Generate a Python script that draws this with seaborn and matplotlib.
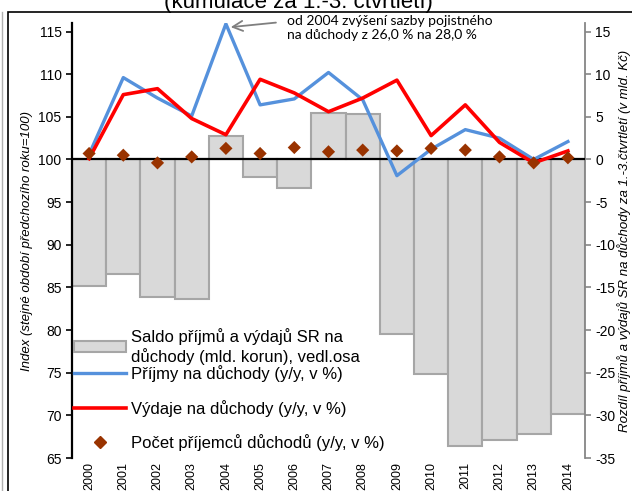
import numpy as np
import pandas as pd
import seaborn as sns
import matplotlib
matplotlib.use("Agg")
import matplotlib.pyplot as plt
from matplotlib.lines import Line2D
from matplotlib.patches import Patch, Rectangle

plt.rcParams['font.family'] = ['Liberation Sans', 'DejaVu Sans']
plt.rcParams['axes.unicode_minus'] = False

# data
roky = list(range(2000, 2015))
saldo = [-14.8, -13.4, -16.1, -16.3, 2.8, -2.1, -3.3, 5.5, 5.3, -20.5, -25.2, -33.6, -32.9, -32.2, -29.8]
prijmy = [100.6, 109.6, 107.2, 105.1, 115.9, 106.4, 107.1, 110.2, 107.0, 98.1, 101.2, 103.5, 102.5, 100.0, 102.1]
vydaje = [100.1, 107.6, 108.3, 104.8, 102.9, 109.4, 107.8, 105.6, 107.2, 109.3, 102.8, 106.4, 102.0, 99.6, 101.0]
pocet = [100.7, 100.5, 99.6, 100.3, 101.3, 100.7, 101.4, 100.9, 101.1, 101.0, 101.3, 101.1, 100.3, 99.6, 100.2]

df = pd.DataFrame({"rok": roky, "saldo": saldo, "prijmy": prijmy, "vydaje": vydaje, "pocet": pocet})
df["pos"] = np.arange(len(df))

modra = "#5591dc"
cervena = "#ff0000"
hneda = "#993300"
seda_bar = "#d9d9d9"
sede_okraje = "#a6a6a6"

fig = plt.figure(figsize=(6.32, 4.91), dpi=100)
ax = fig.add_axes([72/632, 1-458/491, (585-72)/632, (458-23)/491])
ax2 = ax.twinx()

# sloupce - saldo na vedlejsi ose
sns.barplot(data=df, x="rok", y="saldo", ax=ax2, color=seda_bar, edgecolor=sede_okraje,
            linewidth=1.5, width=1.0, saturation=1)

# cary na hlavni ose
ax.axhline(100, color="black", lw=1.6, zorder=2)
sns.lineplot(data=df, x="pos", y="prijmy", ax=ax, color=modra, lw=2.4, zorder=3)
sns.lineplot(data=df, x="pos", y="vydaje", ax=ax, color=cervena, lw=2.6, zorder=3)
sns.scatterplot(data=df, x="pos", y="pocet", ax=ax, marker="D", s=45, color=hneda,
                edgecolor="none", zorder=4)

ax.set_zorder(ax2.get_zorder() + 1)
ax.patch.set_visible(False)

ax.set_xlim(-0.5, len(roky) - 0.5)
ax.set_ylim(65, 116)
ax.set_yticks(range(65, 116, 5))
ax2.set_ylim(-35, 16)
ax2.set_yticks(range(-35, 16, 5))

ax.set_xticks(df["pos"], [str(r) for r in roky], rotation=90, fontsize=9)
ax.tick_params(axis="x", length=0, pad=3)
ax.tick_params(axis="y", labelsize=10, length=4, width=1.2, color="black")
ax2.tick_params(axis="y", labelsize=10, length=4, width=1.2, color="#868686")

for s in ["top", "right", "bottom"]:
    ax.spines[s].set_visible(False)
ax.spines["left"].set_linewidth(1.6)
for s in ["top", "left", "bottom"]:
    ax2.spines[s].set_visible(False)
ax2.spines["right"].set_color("#868686")
ax2.spines["right"].set_linewidth(1.3)

ax.set_xlabel("")
ax.set_ylabel("Index (stejné období předchozího roku=100)", style="italic", fontsize=9.5, labelpad=4)
ax2.set_ylabel("Rozdíl příjmů a výdajů SR na důchody za 1.-3.čtvrtletí (v mld. Kč)",
               style="italic", fontsize=9.5, labelpad=1)

# legenda
h1 = [Patch(facecolor=seda_bar, edgecolor=sede_okraje, lw=1.5),
      Line2D([], [], color=modra, lw=2.4)]
l1 = ["Saldo příjmů a výdajů SR na\ndůchody (mld. korun), vedl.osa", "Příjmy na důchody (y/y, v %)"]
leg1 = ax.legend(h1, l1, loc="upper left", bbox_to_anchor=(74/632, 1-328/491),
                 bbox_transform=fig.transFigure, frameon=False, fontsize=12,
                 handlelength=3.1, handletextpad=0.3, labelspacing=0.0,
                 borderpad=0, borderaxespad=0)
ax.add_artist(leg1)
h2 = [Line2D([], [], color=cervena, lw=2.6),
      Line2D([], [], marker="D", color=hneda, lw=0, markersize=6.5)]
l2 = ["Výdaje na důchody (y/y, v %)", "Počet příjemců důchodů (y/y, v %)"]
ax.legend(h2, l2, loc="upper left", bbox_to_anchor=(74/632, 1-400/491),
          bbox_transform=fig.transFigure, frameon=False, fontsize=12,
          handlelength=3.1, handletextpad=0.3, labelspacing=1.0,
          borderpad=0, borderaxespad=0)

# poznamka se sipkou
ax.annotate("od 2004 zvýšení sazby pojistného\nna důchody z 26,0 % na 28,0 %",
            xy=(4.1, 115.5), xytext=(287/632, 1-15/491), textcoords="figure fraction",
            ha="left", va="top", fontsize=10, family=["Lato", "DejaVu Sans"], linespacing=1.2,
            annotation_clip=False,
            arrowprops=dict(arrowstyle="->", color="#7f7f7f", lw=1.3, mutation_scale=18,
                            relpos=(0, 0.75), shrinkA=6, shrinkB=1))

# titulek (orizly nahore) a ramecek
fig.text(0.473, 1-8/491, "(kumulace za 1.-3. čtvrtletí)", fontsize=16, ha="center", va="baseline")
fig.add_artist(Rectangle((8/632, -0.1), 1.0, 1.1-12/491, transform=fig.transFigure,
                         fill=False, edgecolor="black", lw=1.2))
fig.add_artist(Line2D([1.5/632, 1.5/632], [0, 1-12/491], transform=fig.transFigure,
                      color="#b0b0b0", lw=1))

fig.savefig("out.png", dpi=100)
